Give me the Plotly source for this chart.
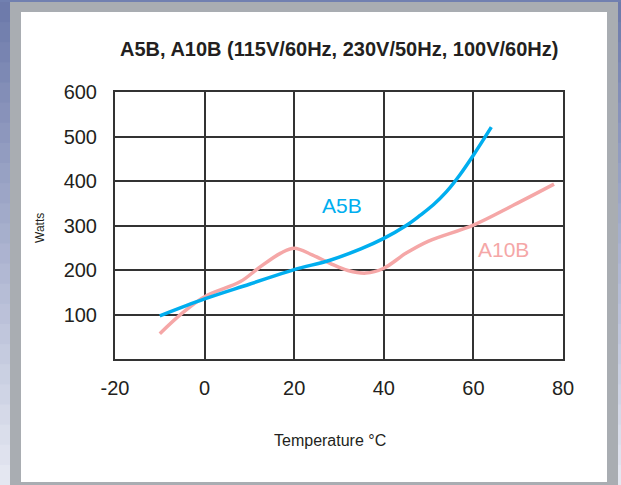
import plotly.graph_objects as go

# temperature (°C) vs power (W)
a5b_temp = [-10, 0, 10, 20, 28, 35, 40, 45, 48, 51, 54, 57, 60, 64]
a5b_watts = [97, 135, 168, 201, 222, 248, 271, 300, 322, 346, 376, 414, 458, 521]

a10b_temp = [-10, -5, 0, 8, 12, 17, 20, 24, 28, 32, 36, 40, 45, 50, 60, 69, 78]
a10b_watts = [57, 103, 140, 174, 204, 238, 249, 234, 215, 199, 193, 204, 238, 265, 301, 346, 393]

x_ticks = [-20, 0, 20, 40, 60, 80]
x_labels = ["-20", "0", "20", "40", "60", "80"]
y_ticks = [100, 200, 300, 400, 500, 600]

title_text = "A5B, A10B (115V/60Hz, 230V/50Hz, 100V/60Hz)"

W, H = 621, 485
L, R, T, B = 115, 58, 92, 126
pw, ph = W - L - R, H - T - B


def px(x):
    return (x - L) / pw


def py(y):
    return (H - B - y) / ph


fig = go.Figure()
fig.add_trace(go.Scatter(x=a10b_temp, y=a10b_watts, mode="lines", name="A10B",
                         line=dict(color="#f5a7a7", width=3.5, shape="spline", smoothing=1)))
fig.add_trace(go.Scatter(x=a5b_temp, y=a5b_watts, mode="lines", name="A5B",
                         line=dict(color="#00aeef", width=3.5, shape="spline", smoothing=1)))

# frame around the chart: gray border, bluish gradient strips on the sides
shapes = [dict(type="rect", xref="paper", yref="paper", x0=px(21), x1=px(607), y0=py(482), y1=py(12),
               fillcolor="white", line_width=0, layer="below"),
          dict(type="rect", xref="paper", yref="paper", x0=px(0), x1=px(W), y0=py(2), y1=py(0),
               fillcolor="#7180b0", line_width=0, layer="below")]
top_c = (110, 123, 171)
bot_c = (228, 231, 241)
n = 24
for i in range(n):
    f = i / (n - 1)
    c = "rgb(%d,%d,%d)" % tuple(round(a + (b - a) * f) for a, b in zip(top_c, bot_c))
    y0 = 2 + i * (H - 2) / n
    y1 = 2 + (i + 1) * (H - 2) / n + 1
    for xa, xb in [(0, 10), (618, W)]:
        shapes.append(dict(type="rect", xref="paper", yref="paper", x0=px(xa), x1=px(xb),
                           y0=py(y1), y1=py(y0), fillcolor=c, line_width=0, layer="below"))

fig.update_layout(
    width=W, height=H,
    margin=dict(l=L, r=R, t=T, b=B),
    paper_bgcolor="#a9adb2", plot_bgcolor="white",
    showlegend=False,
    font=dict(family="Liberation Sans, Arial, sans-serif", color="#231f20"),
    shapes=shapes,
    annotations=[
        dict(text="<b>" + title_text + "</b>", xref="paper", yref="paper", x=px(339), y=py(49),
             xanchor="center", yanchor="middle", showarrow=False,
             font=dict(family="Liberation Sans, Arial", size=20, color="#231f20")),
        dict(text="Temperature °C", xref="paper", yref="paper", x=px(330), y=py(440),
             xanchor="center", yanchor="middle", showarrow=False, font=dict(size=16)),
        dict(text="Watts", xref="paper", yref="paper", x=px(40), y=py(228), textangle=-90,
             xanchor="center", yanchor="middle", showarrow=False, font=dict(size=12)),
        dict(text="A5B", x=30.6, y=346, showarrow=False, font=dict(size=21, color="#00aeef")),
        dict(text="A10B", x=66.7, y=245, showarrow=False, font=dict(size=21, color="#f5a7a7")),
    ],
)
fig.update_xaxes(range=[-20, 80], tickvals=x_ticks, ticktext=x_labels, showgrid=True, gridcolor="#333333",
                 gridwidth=1.5, showline=True, linecolor="#333333", linewidth=2, mirror=True, zeroline=False,
                 ticks="", ticklabelstandoff=10, tickfont=dict(size=20))
fig.update_yaxes(range=[0, 600], tickvals=y_ticks, showgrid=True, gridcolor="#333333", gridwidth=1.5,
                 showline=True, linecolor="#333333", linewidth=2, mirror=True, zeroline=False,
                 ticks="", ticklabelstandoff=12, tickfont=dict(size=20))

fig.write_html("out.html", config={"displayModeBar": False},
               post_script="document.body.style.margin='0px';")
